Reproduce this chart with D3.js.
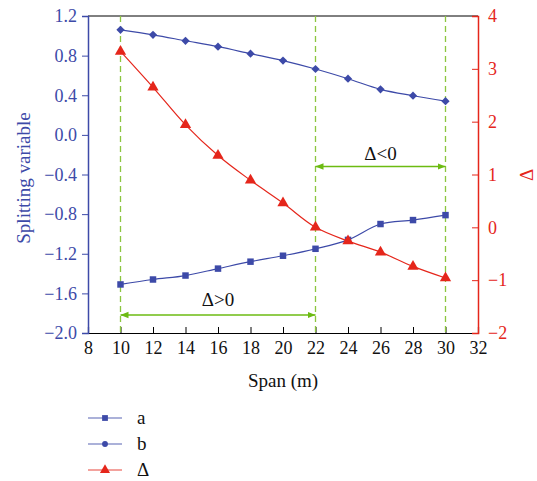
<!DOCTYPE html>
<html>
<head>
<meta charset="utf-8">
<script src="https://cdn.jsdelivr.net/npm/d3@7"></script>
<style>
  body { margin: 0; background: #fff; }
</style>
</head>
<body>
<div id="chart"></div>
<script>
// data
var span = [10, 12, 14, 16, 18, 20, 22, 24, 26, 28, 30];
var aVals = [-1.51, -1.46, -1.42, -1.35, -1.28, -1.22, -1.15, -1.06, -0.90, -0.86, -0.81];
var bVals = [1.06, 1.01, 0.95, 0.89, 0.82, 0.75, 0.665, 0.567, 0.46, 0.395, 0.34];
var deltaVals = [3.33, 2.65, 1.94, 1.36, 0.89, 0.46, 0.0, -0.26, -0.47, -0.74, -0.96];
var xTicks = [8, 10, 12, 14, 16, 18, 20, 22, 24, 26, 28, 30, 32];
var leftTicks = [1.2, 0.8, 0.4, 0.0, -0.4, -0.8, -1.2, -1.6, -2.0];
var rightTicks = [4, 3, 2, 1, 0, -1, -2];
var guideX = [10, 22, 30];

var W = 537, H = 481;
var m = {left: 88, right: 478, top: 16, bottom: 333};
var blue = "#3d4aa8", red = "#e5261b", green = "#8cc63f", arrowGreen = "#6cbb12";
var serif = "Liberation Serif";

var svg = d3.select("#chart").append("svg")
    .attr("width", W).attr("height", H);

var x = d3.scaleLinear().domain([8, 32]).range([m.left, m.right]);
var yL = d3.scaleLinear().domain([-2, 1.2]).range([m.bottom, m.top]);
var yR = d3.scaleLinear().domain([-2, 4]).range([m.bottom, m.top]);

// helper: every text element gets its own font settings
function txt(sel, size, color) {
  return sel.attr("font-family", serif).attr("font-size", size).attr("fill", color);
}

// frame: top black line
svg.append("line").attr("x1", m.left).attr("x2", m.right)
    .attr("y1", m.top).attr("y2", m.top).attr("stroke", "#000").attr("stroke-width", 1);

// bottom axis
var xAxis = svg.append("g").attr("transform", "translate(0," + m.bottom + ")")
    .call(d3.axisBottom(x).tickValues(xTicks).tickSize(-6).tickPadding(8).tickFormat(d3.format("d")));
xAxis.select(".domain").attr("stroke", "#000").attr("stroke-width", 1.2);
xAxis.selectAll(".tick line").attr("stroke", "#000");
txt(xAxis.selectAll("text"), 18, "#111");

// left axis
var lAxis = svg.append("g").attr("transform", "translate(" + m.left + ",0)")
    .call(d3.axisLeft(yL).tickValues(leftTicks).tickSize(6).tickPadding(5)
      .tickFormat(function (d) { return d3.format(".1f")(d).replace("-", "\u2212"); }));
lAxis.select(".domain").attr("stroke", blue).attr("stroke-width", 1.5);
lAxis.selectAll(".tick line").attr("stroke", blue);
txt(lAxis.selectAll("text"), 18, blue);

// right axis (ticks inward)
var rAxis = svg.append("g").attr("transform", "translate(" + m.right + ",0)")
    .call(d3.axisRight(yR).tickValues(rightTicks).tickSize(-6).tickPadding(10)
      .tickFormat(function (d) { return String(d).replace("-", "\u2212"); }));
rAxis.select(".domain").attr("stroke", red).attr("stroke-width", 1.5);
rAxis.selectAll(".tick line").attr("stroke", red);
txt(rAxis.selectAll("text"), 18, red);

// axis titles
txt(svg.append("text").attr("transform", "translate(30,178) rotate(-90)")
    .attr("text-anchor", "middle"), 19, blue).text("Splitting variable");
txt(svg.append("text").attr("x", 283).attr("y", 387)
    .attr("text-anchor", "middle"), 19, "#111").text("Span (m)");
txt(svg.append("text").attr("transform", "translate(533,175) rotate(-90)")
    .attr("text-anchor", "middle"), 19, red).text("\u0394");

// green dashed guides
svg.selectAll(".guide").data(guideX).enter().append("line")
    .attr("class", "guide")
    .attr("x1", function (d) { return x(d); }).attr("x2", function (d) { return x(d); })
    .attr("y1", m.top).attr("y2", m.bottom)
    .attr("stroke", green).attr("stroke-width", 1.3).attr("stroke-dasharray", "6,4");

// arrows
var defs = svg.append("defs");
defs.append("marker").attr("id", "ah").attr("viewBox", "0 0 10 10")
    .attr("refX", 10).attr("refY", 5).attr("markerWidth", 8).attr("markerHeight", 8)
    .attr("orient", "auto-start-reverse").attr("markerUnits", "userSpaceOnUse")
    .append("path").attr("d", "M0,1 L10,5 L0,9 Z").attr("fill", arrowGreen);

function arrow(x0, x1, yv, label, ty) {
  svg.append("line").attr("x1", x(x0)).attr("x2", x(x1)).attr("y1", yv).attr("y2", yv)
    .attr("stroke", arrowGreen).attr("stroke-width", 1.3)
    .attr("marker-start", "url(#ah)").attr("marker-end", "url(#ah)");
  txt(svg.append("text").attr("x", (x(x0) + x(x1)) / 2).attr("y", ty)
    .attr("text-anchor", "middle"), 19, "#111").text(label);
}
arrow(10, 22, 315, "\u0394>0", 306);
arrow(22, 30, 166.5, "\u0394<0", 160);

// series
var series = [
  {name: "a", vals: aVals, y: yL, color: blue, sym: d3.symbolSquare, size: 42, rot: 0},
  {name: "b", vals: bVals, y: yL, color: blue, sym: d3.symbolSquare, size: 34, rot: 45},
  {name: "\u0394", vals: deltaVals, y: yR, color: red, sym: d3.symbolTriangle, size: 55, rot: 0}
];

series.forEach(function (s) {
  var pts = span.map(function (d, i) { return [x(d), s.y(s.vals[i])]; });
  svg.append("path").datum(pts)
    .attr("d", d3.line().curve(d3.curveCatmullRom.alpha(0.5)))
    .attr("fill", "none").attr("stroke", s.color).attr("stroke-width", 1.2);
  svg.selectAll(null).data(pts).enter().append("path")
    .attr("transform", function (p) { return "translate(" + p[0] + "," + p[1] + ") rotate(" + s.rot + ")"; })
    .attr("d", d3.symbol().type(s.sym).size(s.size))
    .attr("fill", s.color);
});

// legend
var leg = svg.append("g");
series.forEach(function (s, i) {
  var ly = 418 + i * 26;
  leg.append("line").attr("x1", 88).attr("x2", 122).attr("y1", ly).attr("y2", ly)
    .attr("stroke", s.color).attr("stroke-width", 1.2).attr("opacity", 0.85);
  leg.append("path").attr("transform", "translate(105," + ly + ")")
    .attr("d", d3.symbol().type(s.name === "b" ? d3.symbolCircle : s.sym).size(s.size * 0.8))
    .attr("fill", s.color);
  txt(leg.append("text").attr("x", 137).attr("y", ly + 6), 19, "#111").text(s.name);
});
</script>
</body>
</html>
